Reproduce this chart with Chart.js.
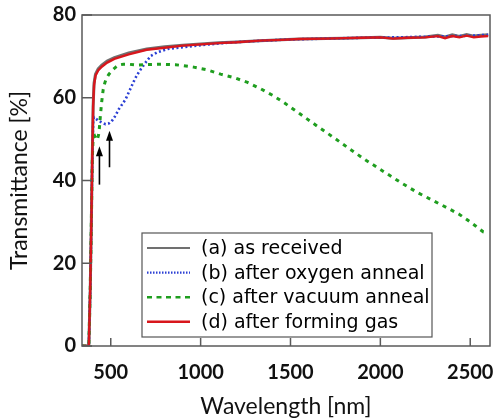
<!DOCTYPE html>
<html>
<head>
<meta charset="utf-8">
<script src="https://cdn.jsdelivr.net/npm/chart.js@4.4.1/dist/chart.umd.min.js"></script>
<style>
    html, body { margin: 0; padding: 0; background: #fff; }
    #chart { display: block; }
</style>
</head>
<body>
<canvas id="chart" width="493" height="420"></canvas>
<script>
// Tick labels
const xTicks = [500, 1000, 1500, 2000, 2500];
const yTicks = [0, 20, 40, 60, 80];

// (a) as received
const wlA = [340, 378, 386, 392, 397, 402, 407, 415, 430, 450, 480, 520, 600, 700, 800, 900, 1000, 1100, 1200, 1330, 1450, 1550, 1700, 1800, 1900, 2000, 2070, 2150, 2250, 2320, 2360, 2400, 2440, 2480, 2520, 2560, 2600];
const tA = [0, 0, 14, 30, 45, 58, 63.5, 65.7, 67.0, 67.9, 68.9, 69.7, 70.8, 71.8, 72.3, 72.7, 73.0, 73.3, 73.5, 73.8, 74.0, 74.2, 74.3, 74.4, 74.5, 74.6, 74.4, 74.5, 74.7, 75.1, 74.7, 75.2, 74.8, 75.3, 74.9, 75.1, 75.2];

// (b) after oxygen anneal
const wlB = [340, 378, 386, 392, 397, 402, 406, 415, 433, 450, 471, 490, 505, 525, 544, 565, 582, 600, 617, 635, 656, 680, 700, 723, 760, 817, 900, 961, 1050, 1150, 1300, 1500, 1700, 1900, 2100, 2300, 2400, 2500, 2600];
const tB = [0, 0, 14, 30, 45, 54, 55.3, 55.0, 54.4, 54.0, 53.6, 53.8, 54.3, 55.6, 57.2, 58.5, 59.6, 61.3, 62.9, 64.6, 66.2, 67.7, 68.9, 70.1, 71.0, 71.8, 72.2, 72.5, 72.9, 73.3, 73.7, 74.1, 74.3, 74.5, 74.6, 74.8, 74.9, 75.0, 75.2];

// (c) after vacuum anneal
const wlC = [340, 378, 386, 392, 397, 402, 410, 418, 425, 432, 437, 442, 449, 458, 467, 475, 490, 506, 525, 544, 570, 600, 644, 700, 780, 860, 961, 1040, 1111, 1190, 1261, 1333, 1400, 1461, 1550, 1650, 1740, 1833, 1920, 2017, 2110, 2206, 2300, 2389, 2440, 2483, 2530, 2572, 2600];
const tC = [0, 0, 14, 30, 45, 50.5, 50.8, 50.0, 49.8, 51.0, 52.8, 55.5, 58.8, 62.0, 63.6, 64.6, 65.7, 66.5, 67.3, 67.9, 68.1, 68.1, 67.9, 68.0, 68.1, 68.0, 67.4, 66.7, 65.7, 64.8, 63.7, 62.2, 60.6, 58.9, 56.2, 53.1, 50.4, 47.5, 44.9, 42.2, 39.6, 37.1, 35.0, 33.0, 31.8, 30.5, 29.0, 27.6, 27.3];

// (d) after forming gas
const wlD = wlA;
const tD = [0, 0, 14, 30, 45, 58, 63, 65.3, 66.6, 67.5, 68.5, 69.4, 70.5, 71.6, 72.1, 72.6, 72.9, 73.2, 73.4, 73.8, 74.0, 74.2, 74.3, 74.4, 74.5, 74.6, 74.3, 74.5, 74.6, 74.9, 74.4, 74.9, 74.6, 75.0, 74.6, 74.8, 74.9];

// Arrows marking the absorption dips
const arrowWl = [437, 493];
const arrowFrom = [39, 43.2];
const arrowTo = [48.3, 52];

const axisColor = "#5a5a5a";
const tickFont = { family: "Lato", size: 20, weight: "bold" };
const titleFont = { family: "Lato", size: 23 };

function pts(xs, ys) {
    return xs.map((x, i) => ({ x: x, y: ys[i] }));
}

// Frame, inward ticks, arrows and the boxed legend
const extras = {
    id: "extras",
    afterDatasetsDraw(chart) {
        const ctx = chart.ctx;
        const a = chart.chartArea;
        const xs = chart.scales.x, ys = chart.scales.y;
        ctx.save();

        // arrows
        ctx.strokeStyle = "#000";
        ctx.fillStyle = "#000";
        ctx.lineWidth = 1.6;
        arrowWl.forEach((w, i) => {
            const px = xs.getPixelForValue(w);
            const y1 = ys.getPixelForValue(arrowFrom[i]);
            const y2 = ys.getPixelForValue(arrowTo[i]);
            ctx.beginPath();
            ctx.moveTo(px, y1);
            ctx.lineTo(px, y2 + 6);
            ctx.stroke();
            ctx.beginPath();
            ctx.moveTo(px, y2);
            ctx.lineTo(px - 3.5, y2 + 10);
            ctx.lineTo(px + 3.5, y2 + 10);
            ctx.closePath();
            ctx.fill();
        });

        // frame
        ctx.strokeStyle = axisColor;
        ctx.lineWidth = 1.5;
        ctx.strokeRect(a.left, a.top, a.right - a.left, a.bottom - a.top);

        // inward ticks
        ctx.beginPath();
        yTicks.forEach(v => {
            const py = ys.getPixelForValue(v);
            ctx.moveTo(a.left, py);
            ctx.lineTo(a.left + 10, py);
        });
        xTicks.forEach(v => {
            const px = xs.getPixelForValue(v);
            ctx.moveTo(px, a.bottom);
            ctx.lineTo(px, a.bottom - 8);
        });
        ctx.stroke();
        ctx.restore();
    },
    afterDraw(chart) {
        const ctx = chart.ctx;
        const box = { left: 142, top: 233, width: 290, height: 104 };
        ctx.save();
        ctx.fillStyle = "#fff";
        ctx.fillRect(box.left, box.top, box.width, box.height);
        ctx.strokeStyle = "#555";
        ctx.lineWidth = 1.2;
        ctx.strokeRect(box.left, box.top, box.width, box.height);

        ctx.font = "19px 'DejaVu Sans'";
        ctx.textBaseline = "middle";
        chart.data.datasets.forEach((ds, i) => {
            const cy = box.top + 15 + i * 24.6;
            ctx.strokeStyle = ds.borderColor;
            ctx.lineWidth = ds.legendWidth;
            ctx.setLineDash(ds.legendDash);
            ctx.beginPath();
            ctx.moveTo(box.left + 5, cy);
            ctx.lineTo(box.left + 48, cy);
            ctx.stroke();
            ctx.setLineDash([]);
            ctx.fillStyle = "#000";
            ctx.fillText(ds.label, box.left + 59, cy + 1);
        });
        ctx.restore();
    }
};

const chart = new Chart(document.getElementById("chart"), {
    type: "line",
    data: {
        datasets: [
            { label: "(a) as received", data: pts(wlA, tA), borderColor: "#707070", borderWidth: 3, order: 3,
              legendWidth: 2, legendDash: [] },
            { label: "(b) after oxygen anneal", data: pts(wlB, tB), borderColor: "#2b3fd4", borderWidth: 2.6,
              borderDash: [2, 2.5], order: 2, legendWidth: 2.4, legendDash: [1.5, 1.5] },
            { label: "(c) after vacuum anneal", data: pts(wlC, tC), borderColor: "#1f9e1f", borderWidth: 3,
              borderDash: [4, 5], order: 1, legendWidth: 2.6, legendDash: [5, 4.5] },
            { label: "(d) after forming gas", data: pts(wlD, tD), borderColor: "#d8161c", borderWidth: 2.4, order: 0,
              legendWidth: 2.4, legendDash: [] }
        ]
    },
    options: {
        responsive: false,
        animation: false,
        devicePixelRatio: 1,
        layout: { padding: { top: 15, right: 3, left: 0, bottom: 0 } },
        elements: { point: { radius: 0 }, line: { tension: 0 } },
        plugins: { legend: { display: false }, tooltip: { enabled: false } },
        scales: {
            x: {
                type: "linear",
                min: 340,
                max: 2610,
                afterBuildTicks: s => { s.ticks = xTicks.map(v => ({ value: v })); },
                afterFit: s => { s.height = 74; s.paddingLeft = 0; s.paddingRight = 0; },
                grid: { display: false, drawTicks: false },
                border: { display: false },
                ticks: { color: "#111", font: tickFont, padding: 15, maxRotation: 0, callback: v => String(v) },
                title: { display: true, text: "Wavelength [nm]", color: "#111", font: titleFont, padding: { top: 0, bottom: 0 } }
            },
            y: {
                min: 0,
                max: 80,
                afterBuildTicks: s => { s.ticks = yTicks.map(v => ({ value: v })); },
                afterFit: s => { s.width = 82; s.paddingTop = 0; s.paddingBottom = 0; },
                grid: { display: false, drawTicks: false },
                border: { display: false },
                ticks: { color: "#111", font: tickFont, padding: 6, callback: v => String(v) },
                title: { display: true, text: "Transmittance [%]", color: "#111", font: titleFont, padding: { top: 6, bottom: 0 } }
            }
        }
    },
    plugins: [extras]
});
</script>
</body>
</html>
